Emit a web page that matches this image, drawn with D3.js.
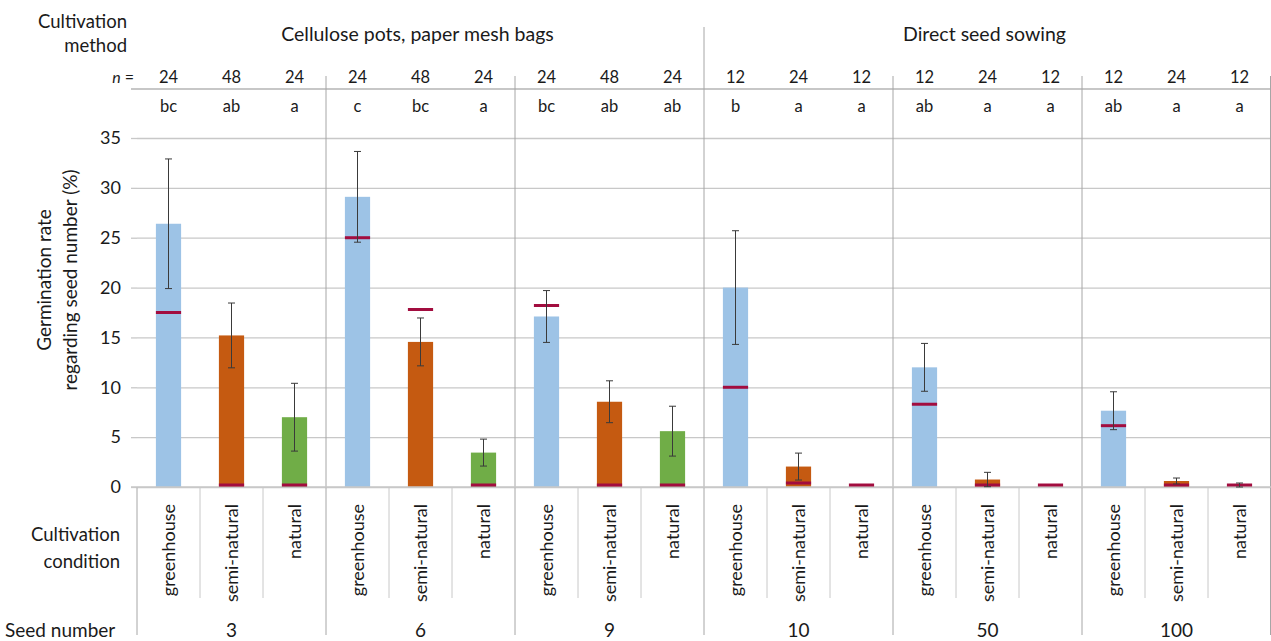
<!DOCTYPE html>
<html>
<head>
<meta charset="utf-8">
<script src="https://cdn.jsdelivr.net/npm/d3@7"></script>
<style>
  body { margin: 0; background: #fff; }
  svg { display: block; font-family: Lato, "Open Sans", sans-serif; }
</style>
</head>
<body>
<svg id="chart"></svg>
<script>
const width = 1271;
const height = 641;
const margin = { top: 138, right: 0, bottom: 154, left: 137 };

// data
const seedNumbers = ["3", "6", "9", "10", "50", "100"];
const conditions = ["greenhouse", "semi-natural", "natural"];
const methods = ["Cellulose pots, paper mesh bags", "Direct seed sowing"];
const methodGroups = [["3", "6", "9"], ["10", "50", "100"]];
const nValues = [[24, 48, 24], [24, 48, 24], [24, 48, 24], [12, 24, 12], [12, 24, 12], [12, 24, 12]];
const letters = [["bc", "ab", "a"], ["c", "bc", "a"], ["bc", "ab", "ab"], ["b", "a", "a"], ["ab", "a", "a"], ["ab", "a", "a"]];
const means = [[26.4, 15.2, 7.0], [29.1, 14.55, 3.45], [17.1, 8.55, 5.6], [20.0, 2.05, 0], [12.0, 0.75, 0], [7.65, 0.6, 0]];
const errors = [[6.5, 3.25, 3.4], [4.55, 2.4, 1.35], [2.6, 2.1, 2.5], [5.7, 1.35, 0], [2.4, 0.72, 0], [1.9, 0.3, 0.4]];
const medians = [[17.5, 0.2, 0.2], [25.0, 17.8, 0.2], [18.2, 0.2, 0.2], [10.0, 0.4, 0.2], [8.3, 0.2, 0.2], [6.15, 0.2, 0.2]];
const yTicks = [0, 5, 10, 15, 20, 25, 30, 35];

const colors = { greenhouse: "#9DC3E6", "semi-natural": "#C55A11", natural: "#70AD47" };
const medianColor = "#A20D3F";
const lineGrey = "#A6A6A6";
const gridGrey = "#C8C8C8";

const rows = [];
seedNumbers.forEach((s, i) => {
  conditions.forEach((c, j) => {
    rows.push({ seed: s, cond: c, mean: means[i][j], err: errors[i][j], median: medians[i][j], n: nValues[i][j], letter: letters[i][j] });
  });
});

const x0 = d3.scaleBand().domain(seedNumbers).range([margin.left, width]);
const x1 = d3.scaleBand().domain(conditions).range([0, x0.bandwidth()]);
const xBar = d3.scaleBand().domain(conditions).range([0, x0.bandwidth()]).paddingInner(0.6).paddingOuter(0.3);
const y = d3.scaleLinear().domain([0, 35]).range([height - margin.bottom, margin.top]);

const svg = d3.select("#chart").attr("width", width).attr("height", height).attr("viewBox", [0, 0, width, height]);

const y0 = y(0);
const cx = (d) => x0(d.seed) + x1(d.cond) + x1.bandwidth() / 2;

// gridlines
svg.append("g")
  .attr("transform", `translate(${margin.left},0)`)
  .call(d3.axisLeft(y).tickValues(yTicks).tickSize(-(width - margin.left)).tickFormat(""))
  .call((g) => g.select(".domain").remove())
  .call((g) => g.selectAll("line").attr("stroke", gridGrey).attr("stroke-width", 1.3));

// y axis ticks and labels
svg.append("g")
  .attr("transform", `translate(${margin.left},0)`)
  .call(d3.axisLeft(y).tickValues(yTicks).tickSize(6).tickPadding(10))
  .call((g) => g.select(".domain").remove())
  .call((g) => g.selectAll("line").attr("stroke", gridGrey).attr("stroke-width", 1.3))
  .call((g) => g.selectAll("text").attr("font-size", 18).attr("fill", "#1a1a1a").style("font-family", "Lato, sans-serif"));

// header separator line under n row
svg.append("line")
  .attr("x1", margin.left - 6).attr("x2", width)
  .attr("y1", 89).attr("y2", 89)
  .attr("stroke", "#B5B5B5").attr("stroke-width", 1.6);

// vertical separators
const groupEdges = seedNumbers.map((s) => x0(s)).concat([width - 0.5]);
groupEdges.forEach((xv, i) => {
  const isMethod = i === 3;
  const top = i === 0 ? y0 : isMethod ? 27 : 76;
  svg.append("line")
    .attr("x1", xv).attr("x2", xv)
    .attr("y1", top).attr("y2", 635)
    .attr("stroke", lineGrey).attr("stroke-width", 1);
});
seedNumbers.forEach((s) => {
  conditions.slice(1).forEach((c) => {
    const xv = x0(s) + x1(c);
    svg.append("line")
      .attr("x1", xv).attr("x2", xv)
      .attr("y1", y0).attr("y2", 598)
      .attr("stroke", gridGrey).attr("stroke-width", 1);
  });
});

// bars
svg.append("g")
  .selectAll("rect")
  .data(rows)
  .join("rect")
  .attr("x", (d) => x0(d.seed) + xBar(d.cond))
  .attr("y", (d) => y(d.mean))
  .attr("width", xBar.bandwidth())
  .attr("height", (d) => y0 - y(d.mean))
  .attr("fill", (d) => colors[d.cond]);

// axis line at zero
svg.append("line")
  .attr("x1", margin.left - 6).attr("x2", width)
  .attr("y1", y0).attr("y2", y0)
  .attr("stroke", gridGrey).attr("stroke-width", 1.3);

// medians
svg.append("g")
  .selectAll("line")
  .data(rows)
  .join("line")
  .attr("x1", (d) => x0(d.seed) + xBar(d.cond))
  .attr("x2", (d) => x0(d.seed) + xBar(d.cond) + xBar.bandwidth())
  .attr("y1", (d) => y(d.median))
  .attr("y2", (d) => y(d.median))
  .attr("stroke", medianColor)
  .attr("stroke-width", 3);

// error bars
const eb = svg.append("g")
  .attr("stroke", "#3A3A3A")
  .attr("stroke-width", 1)
  .selectAll("g")
  .data(rows.filter((d) => d.err > 0))
  .join("g");
eb.append("line")
  .attr("x1", cx).attr("x2", cx)
  .attr("y1", (d) => y(d.mean + d.err))
  .attr("y2", (d) => y(Math.max(0, d.mean - d.err)));
eb.append("line")
  .attr("x1", (d) => cx(d) - 3.5).attr("x2", (d) => cx(d) + 3.5)
  .attr("y1", (d) => y(d.mean + d.err)).attr("y2", (d) => y(d.mean + d.err));
eb.append("line")
  .attr("x1", (d) => cx(d) - 3.5).attr("x2", (d) => cx(d) + 3.5)
  .attr("y1", (d) => y(Math.max(0, d.mean - d.err))).attr("y2", (d) => y(Math.max(0, d.mean - d.err)));

// header texts
const txt = (x, yv, s, size, anchor) =>
  svg.append("text").attr("x", x).attr("y", yv).attr("font-size", size)
    .attr("text-anchor", anchor || "middle").attr("fill", "#1a1a1a").text(s);

txt(127, 28, "Cultivation", 18.5, "end");
txt(127, 52, "method", 18.5, "end");

methods.forEach((m, i) => {
  const gs = methodGroups[i];
  const left = x0(gs[0]);
  const right = x0(gs[gs.length - 1]) + x0.bandwidth();
  txt((left + right) / 2 - 3, 41, m, 19.5);
});

const nLabel = svg.append("text").attr("x", 134).attr("y", 83).attr("font-size", 16)
  .attr("text-anchor", "end").attr("fill", "#1a1a1a");
nLabel.append("tspan").attr("font-style", "italic").text("n");
nLabel.append("tspan").text(" =");

svg.append("g").selectAll("text").data(rows).join("text")
  .attr("x", cx).attr("y", 83).attr("font-size", 16.5).attr("text-anchor", "middle").attr("fill", "#1a1a1a")
  .text((d) => d.n);

svg.append("g").selectAll("text").data(rows).join("text")
  .attr("x", cx).attr("y", 112).attr("font-size", 16.5).attr("text-anchor", "middle").attr("fill", "#1a1a1a")
  .text((d) => d.letter);

// y axis title
const yTitle = svg.append("text").attr("transform", "translate(45,280) rotate(-90)")
  .attr("font-size", 19).attr("text-anchor", "middle").attr("fill", "#1a1a1a");
yTitle.append("tspan").attr("x", 0).attr("dy", 6).text("Germination rate");
yTitle.append("tspan").attr("x", 0).attr("dy", 26).text("regarding seed number (%)");

// category labels
svg.append("g").selectAll("text").data(rows).join("text")
  .attr("transform", (d) => `translate(${cx(d) + 6.5},504) rotate(-90)`)
  .attr("font-size", 18).attr("text-anchor", "end").attr("fill", "#1a1a1a")
  .text((d) => d.cond);

txt(120, 541, "Cultivation", 18.5, "end");
txt(120, 568, "condition", 18.5, "end");

txt(5, 637, "Seed number", 19, "start");
seedNumbers.forEach((s) => txt(x0(s) + x0.bandwidth() / 2, 637, s, 19));
</script>
</body>
</html>
